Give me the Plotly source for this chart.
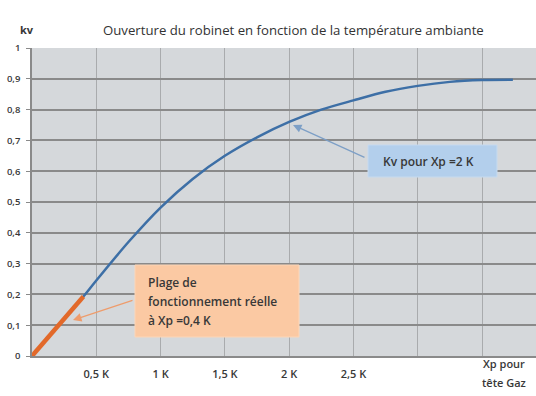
import plotly.graph_objects as go

# Valve opening (kv) against ambient-temperature offset (K)
xp_k = [0, 0.25, 0.4, 0.5, 0.75, 1.0, 1.25, 1.5, 1.75, 2.0, 2.25, 2.5, 2.75, 3.0, 3.25, 3.5, 3.74]
kv = [0, 0.122, 0.193, 0.245, 0.37, 0.482, 0.575, 0.65, 0.71, 0.76, 0.80, 0.83, 0.858, 0.877, 0.89, 0.896, 0.897]

# Working range for a 0.4 K proportional band
work_n = 3
work_x = xp_k[:work_n]
work_kv = kv[:work_n]

x_ticks = [0.5, 1.0, 1.5, 2.0, 2.5, 3.0, 3.5]
x_tick_text = ["0,5 K", "1 K", "1,5 K", "2 K", "2,5 K", "", ""]
y_ticks = [0, 0.1, 0.2, 0.3, 0.4, 0.5, 0.6, 0.7, 0.8, 0.9, 1.0]
y_tick_text = ["0", "0,1", "0,2", "0,3", "0,4", "0,5", "0,6", "0,7", "0,8", "0,9", "1"]

band_lines = ["Plage de", "fonctionnement réelle", "à Xp =0,4 K"]
gas_head_lines = ["Xp pour", "tête Gaz"]

W, H = 536, 396
ML, MR, MT, MB = 32, 0, 48, 40
PW, PH = W - ML - MR, H - MT - MB
X_MAX = 3.92

FONT = "Open Sans"
TXT = "#383838"


def px_x(px):
    return (px - ML) / PW


def px_y(py):
    return (H - MB - py) / PH


def dx(px):
    return px_x(px) * X_MAX


def dy(py):
    return px_y(py)


fig = go.Figure()
fig.add_trace(go.Scatter(
    x=xp_k, y=kv, mode="lines",
    line=dict(color="#3d6fa6", width=2.5, shape="spline", smoothing=0.8),
    hoverinfo="skip", showlegend=False,
))
fig.add_trace(go.Scatter(
    x=work_x, y=work_kv, mode="lines",
    line=dict(color="#e2692a", width=4.5),
    hoverinfo="skip", showlegend=False,
))

# callout boxes
shapes = [
    dict(type="rect", xref="x", yref="y", layer="above",
         x0=dx(368), x1=dx(497), y0=dy(177), y1=dy(145),
         fillcolor="#b3cfec", line=dict(color="#c6daef", width=1)),
    dict(type="rect", xref="x", yref="y", layer="above",
         x0=dx(135), x1=dx(299), y0=dy(337), y1=dy(265),
         fillcolor="#fbc9a3", line=dict(color="#fcd6b8", width=1)),
]

semi = dict(family=FONT, size=12, color=TXT, weight=600)
tick_semi = dict(family=FONT, size=11, color=TXT, weight=600)

annotations = [
    # chart title and axis caption
    dict(text="Ouverture du robinet en fonction de la température ambiante",
         xref="paper", yref="paper", x=px_x(293), y=px_y(19),
         showarrow=False, font=dict(family=FONT, size=13.2, color="#333333")),
    dict(text="<b>kv</b>", xref="paper", yref="paper", x=px_x(18), y=px_y(20),
         showarrow=False, font=dict(family=FONT, size=11, color=TXT)),
    # arrows to the curve
    dict(text="", xref="x", yref="y", x=dx(293), y=dy(125),
         axref="x", ayref="y", ax=dx(366), ay=dy(158),
         showarrow=True, arrowhead=2, arrowsize=1.3, arrowwidth=1.3,
         arrowcolor="#7d9fc6"),
    dict(text="", xref="x", yref="y", x=dx(73), y=dy(320),
         axref="x", ayref="y", ax=dx(134), ay=dy(300),
         showarrow=True, arrowhead=2, arrowsize=1.3, arrowwidth=1.3,
         arrowcolor="#ee9c6c"),
    dict(text="Kv pour Xp =2 K", xref="x", yref="y", x=dx(428), y=dy(161),
         showarrow=False, font=semi),
]
for line_text, py in zip(band_lines, [282, 301, 320]):
    annotations.append(dict(text=line_text, xref="x", yref="y", x=dx(146), y=dy(py),
                            xanchor="left", showarrow=False, font=semi))
for line_text, py in zip(gas_head_lines, [373, 392]):
    annotations.append(dict(text=line_text, xref="x", yref="paper", x=dx(504), y=px_y(py),
                            showarrow=False, font=tick_semi))

fig.update_layout(
    width=W, height=H,
    margin=dict(l=ML, r=MR, t=MT, b=MB, pad=0),
    paper_bgcolor="white",
    plot_bgcolor="#d5d8db",
    font=dict(family=FONT, size=10, color=TXT),
    shapes=shapes,
    annotations=annotations,
    showlegend=False,
)
fig.update_xaxes(
    range=[0, X_MAX], tickmode="array", tickvals=x_ticks, ticktext=x_tick_text,
    showgrid=True, gridcolor="#a9abad", gridwidth=1, zeroline=False,
    showline=True, linecolor="#8a8a8a", linewidth=1.5,
    ticks="", ticklabelstandoff=7, tickfont=tick_semi,
    fixedrange=True,
)
fig.update_yaxes(
    range=[0, 1], tickmode="array", tickvals=y_ticks, ticktext=y_tick_text,
    showgrid=True, gridcolor="#8a8a8a", gridwidth=1.7, zeroline=False,
    showline=True, linecolor="#8a8a8a", linewidth=1.5,
    ticks="outside", ticklen=4, tickcolor="#8a8a8a", ticklabelstandoff=4,
    tickfont=dict(family=FONT, size=9.5, color=TXT, weight=600), fixedrange=True,
)

fig.write_html("out.html")
